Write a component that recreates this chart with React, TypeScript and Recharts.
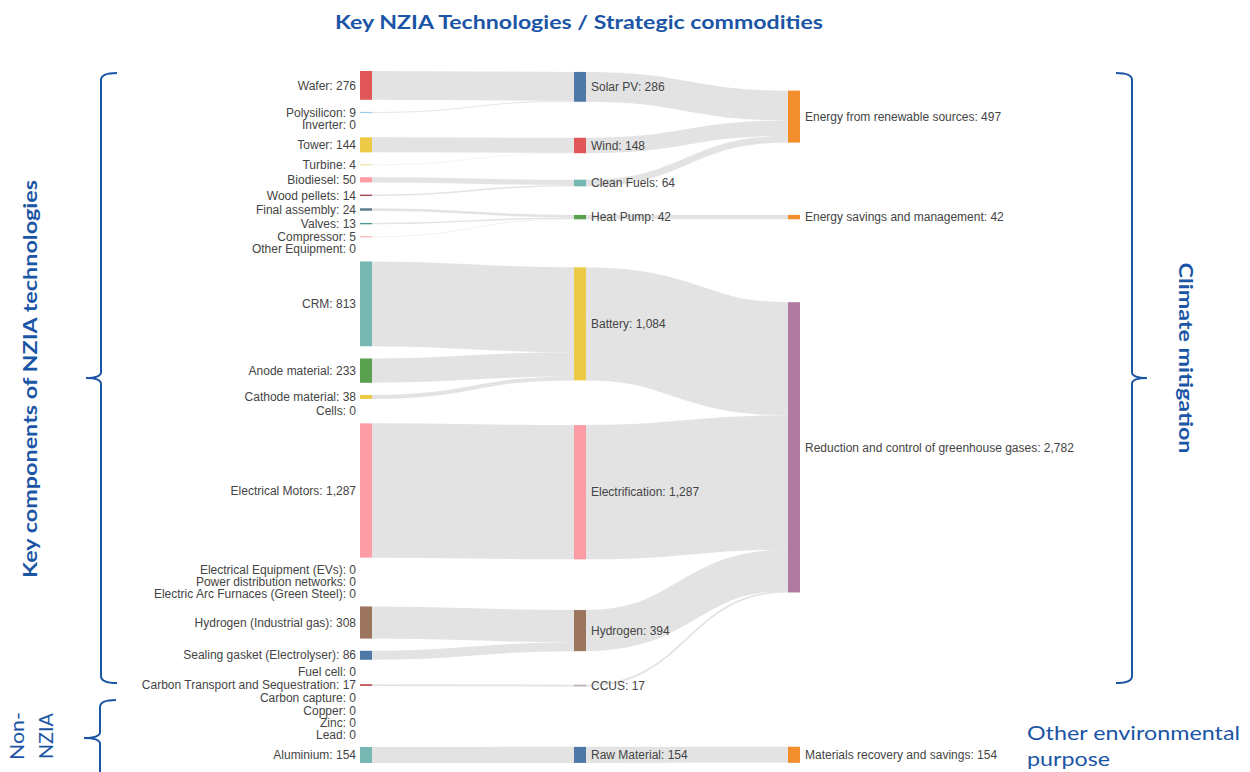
import React from 'react';
import { Sankey } from 'recharts';

// ---- Data ----
const componentNames = [
  'Wafer', 'Polysilicon', 'Inverter', 'Tower', 'Turbine', 'Biodiesel', 'Wood pellets',
  'Final assembly', 'Valves', 'Compressor', 'Other Equipment', 'CRM', 'Anode material',
  'Cathode material', 'Cells', 'Electrical Motors', 'Electrical Equipment (EVs)',
  'Power distribution networks', 'Electric Arc Furnaces (Green Steel)', 'Hydrogen (Industrial gas)',
  'Sealing gasket (Electrolyser)', 'Fuel cell', 'Carbon Transport and Sequestration', 'Carbon capture',
  'Copper', 'Zinc', 'Lead', 'Aluminium',
];
const componentValues = [
  276, 9, 0, 144, 4, 50, 14, 24, 13, 5, 0, 813, 233, 38, 0, 1287, 0, 0, 0, 308, 86, 0, 17, 0, 0, 0, 0, 154,
];
const componentTechnology = [0, 0, 0, 1, 1, 2, 2, 3, 3, 3, 3, 4, 4, 4, 4, 5, 5, 5, 5, 6, 6, 6, 7, 7, 8, 8, 8, 8];
const componentColors = [
  '#e15759', '#9ecae9', '#bab0ac', '#edc948', '#f1e3a0', '#ff9da7', '#a0505c', '#5f7f8a', '#499894',
  '#ffb3b3', '#bab0ac', '#76b7b2', '#59a14f', '#edc948', '#bab0ac', '#ff9da7', '#bab0ac', '#bab0ac',
  '#bab0ac', '#9c755f', '#4e79a7', '#bab0ac', '#c0505a', '#bab0ac', '#bab0ac', '#bab0ac', '#bab0ac', '#76b7b2',
];

const technologyNames = [
  'Solar PV', 'Wind', 'Clean Fuels', 'Heat Pump', 'Battery', 'Electrification', 'Hydrogen', 'CCUS', 'Raw Material',
];
const technologyValues = [286, 148, 64, 42, 1084, 1287, 394, 17, 154];
const technologyPurpose = [0, 0, 0, 1, 2, 2, 2, 2, 3];
const technologyColors = [
  '#4e79a7', '#e15759', '#76b7b2', '#59a14f', '#edc948', '#ff9da7', '#9c755f', '#bab0ac', '#4e79a7',
];

const purposeNames = [
  'Energy from renewable sources', 'Energy savings and management',
  'Reduction and control of greenhouse gases', 'Materials recovery and savings',
];
const purposeValues = [497, 42, 2782, 154];
const purposeColors = ['#f28e2b', '#f28e2b', '#b07aa1', '#f28e2b'];

const BLUE = '#1b55a5';

// ---- Build the table Recharts needs ----
const fmt = (v: number) => v.toLocaleString('en-US');
const nC = componentNames.length;
const nT = technologyNames.length;

const nodes = [
  ...componentNames.map((n, i) => ({ name: n, label: `${n}: ${fmt(componentValues[i])}`, color: componentColors[i], col: 0 })),
  ...technologyNames.map((n, i) => ({ name: n, label: `${n}: ${fmt(technologyValues[i])}`, color: technologyColors[i], col: 1 })),
  ...purposeNames.map((n, i) => ({ name: n, label: `${n}: ${fmt(purposeValues[i])}`, color: purposeColors[i], col: 2 })),
];
// zero flows get a negligible value so the layout keeps their (empty) nodes
const links = [
  ...componentValues.map((v, i) => ({ source: i, target: nC + componentTechnology[i], value: Math.max(v, 0.001) })),
  ...technologyValues.map((v, i) => ({ source: nC + i, target: nC + nT + technologyPurpose[i], value: v })),
];
const sankeyData = { nodes, links };

const SankeyNode = (props: any) => {
  const { x, y, width, height, payload } = props;
  const cy = y + height / 2;
  const left = payload.col === 0;
  const h = Math.max(height, 1.2);
  return (
    <g>
      {height > 0.05 && <rect x={x} y={cy - h / 2} width={width} height={h} fill={payload.color} />}
      <text
        x={left ? x - 4 : x + width + 5}
        y={cy}
        dy="0.35em"
        textAnchor={left ? 'end' : 'start'}
        fontSize={12}
        fontFamily="'Liberation Sans', Arial, sans-serif"
        fill="#444"
      >
        {payload.label}
      </text>
    </g>
  );
};

export default function App() {
  return (
    <div style={{ position: 'absolute', left: 0, top: 0, width: 1250, height: 772, background: '#fff', overflow: 'hidden' }}>
      <Sankey
        width={1250}
        height={772}
        data={sankeyData}
        margin={{ top: 71, right: 450, bottom: 9, left: 360 }}
        nodeWidth={12}
        nodePadding={12.2}
        iterations={2}
        sort={false}
        linkCurvature={0.5}
        node={<SankeyNode />}
        link={{ stroke: '#c8c8c8', strokeOpacity: 0.5 }}
      />
      <svg width={1250} height={772} style={{ position: 'absolute', left: 0, top: 0, pointerEvents: 'none' }}>
        <text x={579} y={29} textAnchor="middle" fontFamily="Lato, 'Open Sans', sans-serif" fontWeight={700} fontSize={18} fill={BLUE} textLength={488} lengthAdjust="spacingAndGlyphs">
          Key NZIA Technologies / Strategic commodities
        </text>
        <text transform="translate(31,379) rotate(-90)" textAnchor="middle" dy="0.35em" fontFamily="Lato, 'Open Sans', sans-serif" fontWeight={700} fontSize={18} fill={BLUE} textLength={398} lengthAdjust="spacingAndGlyphs">
          Key components of NZIA technologies
        </text>
        <text transform="translate(1185,358) rotate(90)" textAnchor="middle" dy="0.35em" fontFamily="Lato, 'Open Sans', sans-serif" fontWeight={700} fontSize={18} fill={BLUE} textLength={191} lengthAdjust="spacingAndGlyphs">
          Climate mitigation
        </text>
        <text transform="translate(17,736) rotate(-90)" textAnchor="middle" dy="0.35em" fontFamily="Lato, 'Open Sans', sans-serif" fontSize={20} fill={BLUE} textLength={48} lengthAdjust="spacingAndGlyphs">
          Non-
        </text>
        <text transform="translate(46,736) rotate(-90)" textAnchor="middle" dy="0.35em" fontFamily="Lato, 'Open Sans', sans-serif" fontSize={20} fill={BLUE} textLength={46} lengthAdjust="spacingAndGlyphs">
          NZIA
        </text>
        <text x={1027} y={740} fontFamily="Lato, 'Open Sans', sans-serif" fontSize={20} fill={BLUE} textLength={213} lengthAdjust="spacingAndGlyphs">
          Other environmental
        </text>
        <text x={1027} y={766} fontFamily="Lato, 'Open Sans', sans-serif" fontSize={20} fill={BLUE} textLength={83} lengthAdjust="spacingAndGlyphs">
          purpose
        </text>
        <g fill="none" stroke={BLUE} strokeWidth={2}>
          <path d="M117,73 Q101,73 101,80 L101,372 Q101,378 86,378 Q101,378 101,384 L101,676 Q101,683 117,683" />
          <path d="M116,700 Q100,700 100,707 L100,732 Q100,738 84,738 Q100,738 100,744 L100,790" />
          <path d="M1116,73 Q1132,73 1132,80 L1132,372 Q1132,378 1147,378 Q1132,378 1132,384 L1132,676 Q1132,683 1116,683" />
        </g>
      </svg>
    </div>
  );
}
